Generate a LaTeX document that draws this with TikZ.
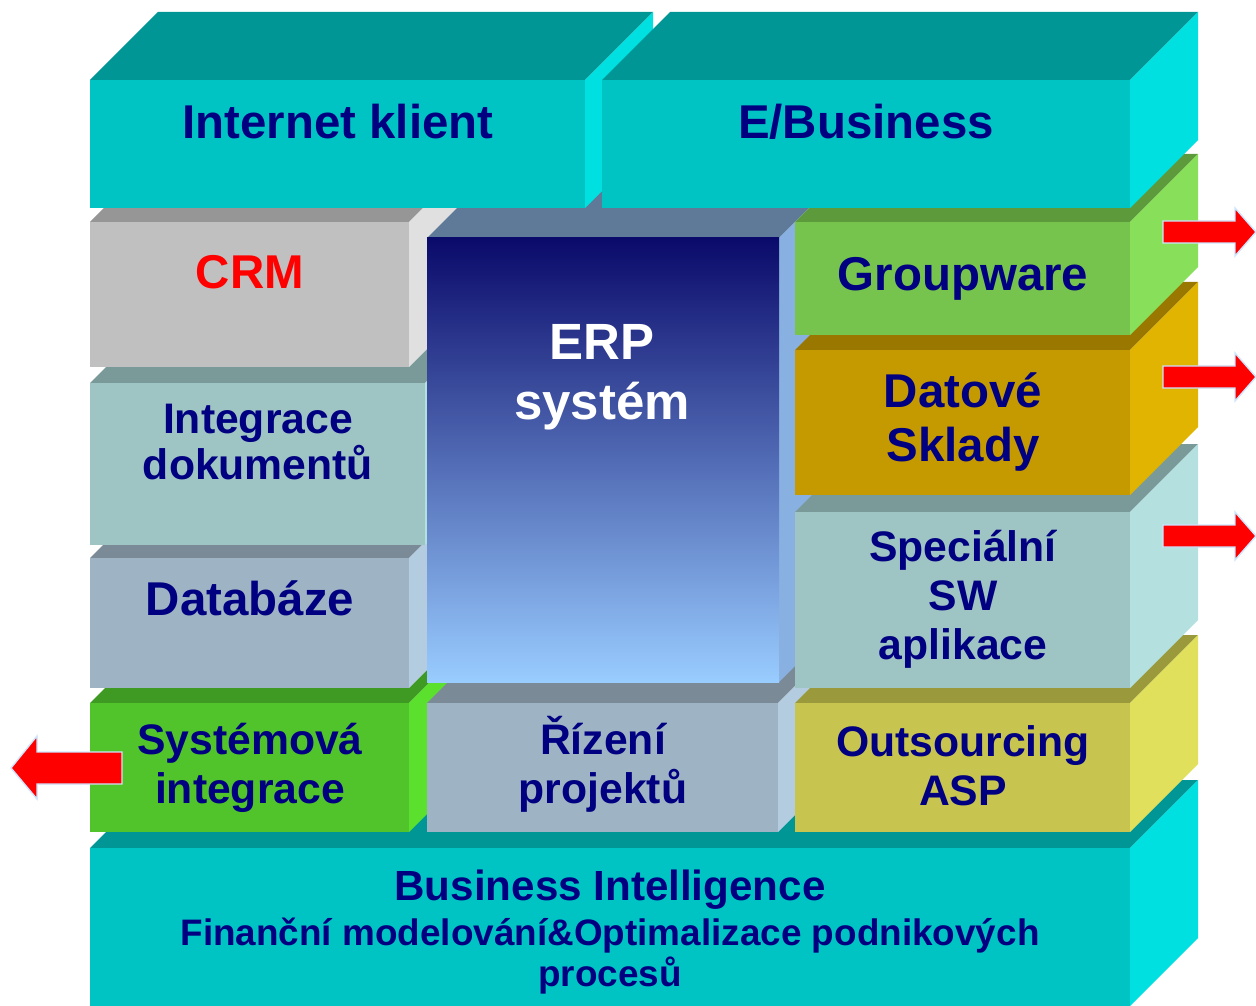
\documentclass[tikz,border=0pt]{standalone}
\usepackage{fontspec}
\setmainfont{Liberation Sans}

\definecolor{navy}{HTML}{000080}
\definecolor{tealfront}{HTML}{00C4C4}
\definecolor{tealtop}{HTML}{009696}
\definecolor{tealside}{HTML}{00E0E0}
\definecolor{greyfront}{HTML}{C0C0C0}
\definecolor{greytop}{HTML}{969696}
\definecolor{greyside}{HTML}{E0E0E0}
\definecolor{mintfront}{HTML}{9EC4C4}
\definecolor{minttop}{HTML}{7A9A9A}
\definecolor{mintside}{HTML}{B4E0E0}
\definecolor{slatefront}{HTML}{9EB4C4}
\definecolor{slatetop}{HTML}{7A8A96}
\definecolor{slateside}{HTML}{B4CCE0}
\definecolor{sysfront}{HTML}{50C42A}
\definecolor{systop}{HTML}{3E9A22}
\definecolor{sysside}{HTML}{5CE02E}
\definecolor{erptop}{HTML}{0A0A6A}
\definecolor{erpbot}{HTML}{99CCFF}
\definecolor{erproof}{HTML}{5E7A98}
\definecolor{erpside}{HTML}{88B0E0}
\definecolor{gwfront}{HTML}{76C44E}
\definecolor{gwtop}{HTML}{5C9A3C}
\definecolor{gwside}{HTML}{88E05A}
\definecolor{dsfront}{HTML}{C49A00}
\definecolor{dstop}{HTML}{9A7800}
\definecolor{dsside}{HTML}{E0B400}
\definecolor{asfront}{HTML}{C8C450}
\definecolor{astop}{HTML}{9A9A3C}
\definecolor{asside}{HTML}{E0E05C}
\definecolor{arrowedge}{HTML}{CCE6FF}

% one box: x1, y1, x2, y2 of the front face, then front, top and side colour
\def\dep{68}
\newcommand{\cuboid}[7]{%
  \fill[#6] (#1,#2) -- ++(\dep,-\dep) -- (#3+\dep,#2-\dep) -- (#3,#2) -- cycle;
  \fill[#7] (#3,#2) -- ++(\dep,-\dep) -- (#3+\dep,#4-\dep) -- (#3,#4) -- cycle;
  \fill[#5] (#1,#2) rectangle (#3,#4);
}

\tikzset{
  lbl/.style={text=navy, align=center, inner sep=0pt,
    font=\fontsize{27}{29}\selectfont\bfseries},
  lblsm/.style={lbl, font=\fontsize{24.3}{28}\selectfont\bfseries},
  redarrow/.style={fill=red, draw=arrowedge, line width=0.8pt}
}

\begin{document}
\begin{tikzpicture}[x=0.02cm, y=-0.02cm]
    \useasboundingbox (0,0) rectangle (1256,1006);

    % Bottom layer
    \cuboid{90}{848}{1130}{1006}{tealfront}{tealtop}{tealside}

    % Left column
    \cuboid{90}{703}{409}{832}{sysfront}{systop}{sysside}
    \cuboid{90}{558}{409}{688}{slatefront}{slatetop}{slateside}
    \cuboid{90}{383}{425}{545}{mintfront}{minttop}{mintside}
    \cuboid{90}{222}{409}{367}{greyfront}{greytop}{greyside}

    % Middle column
    \cuboid{427}{703}{778}{832}{slatefront}{slatetop}{slateside}
    \fill[erproof] (427,238) -- ++(\dep,-\dep) -- (779+\dep,238-\dep) -- (779,238) -- cycle;
    \fill[erpside] (779,238) -- ++(\dep,-\dep) -- (779+\dep,682-\dep) -- (779,682) -- cycle;
    \shade[top color=erptop, bottom color=erpbot] (427,238) rectangle (779,682);

    % Right column
    \cuboid{795}{703}{1130}{832}{asfront}{astop}{asside}
    \cuboid{795}{512}{1130}{688}{mintfront}{minttop}{mintside}
    \cuboid{795}{350}{1130}{495}{dsfront}{dstop}{dsside}
    \cuboid{795}{222}{1130}{335}{gwfront}{gwtop}{gwside}

    % Top layer
    \cuboid{90}{80}{585}{208}{tealfront}{tealtop}{tealside}
    \cuboid{602}{80}{1130}{208}{tealfront}{tealtop}{tealside}

    % Labels
    \node[lbl] (inet) at (338,122) {Internet klient};
    \node[lbl] (ebus) at (866,122) {E/Business};
    \node[lbl, text=red] (crm) at (250,272) {CRM};
    \node[lblsm, font=\fontsize{24.3}{26.5}\selectfont\bfseries] (idok) at (258,442) {Integrace\\dokumentů};
    \node[lbl] (dbs) at (250,598) {Databáze};
    \node[lblsm] (sysint) at (250,768) {Systémová\\integrace};
    \node[lbl, text=white, font=\fontsize{29}{34}\selectfont\bfseries] (erp) at (602,377) {ERP\\systém};
    \node[lblsm] (rizeni) at (603,764) {Řízení\\projektů};
    \node[lbl] (gware) at (963,279) {Groupware};
    \node[lbl, font=\fontsize{27}{31}\selectfont\bfseries] (dsklad) at (963,422) {Datové\\Sklady};
    \node[lblsm] (specsw) at (963,599) {Speciální\\SW\\aplikace};
    \node[lblsm] (asp) at (963,766) {Outsourcing\\ASP};
    \node[lbl, font=\fontsize{24}{26}\selectfont\bfseries] (bi) at (610,890) {Business Intelligence};
    \node[lbl, font=\fontsize{21}{23}\selectfont\bfseries] (bisub) at (610,956) {Finanční modelování\&Optimalizace podnikových\\procesů};

    % Arrows
    \foreach \cy in {232,377,536}
        \draw[redarrow] (1163,\cy-11) -- (1235,\cy-11) -- (1235,\cy-24) -- (1256,\cy)
            -- (1235,\cy+24) -- (1235,\cy+11) -- (1163,\cy+11) -- cycle;
    \draw[redarrow] (122,752) -- (37,752) -- (37,736) -- (11,768) -- (37,799)
        -- (37,784) -- (122,784) -- cycle;

\end{tikzpicture}
\end{document}
